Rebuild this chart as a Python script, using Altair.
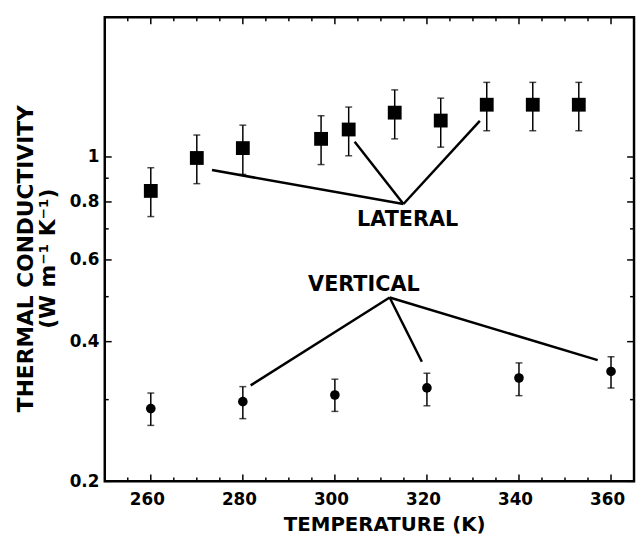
import altair as alt
import pandas as pd

# ---- data ----
lat_T = [260, 270, 280, 297, 303, 313, 323, 333, 343, 353]
lat_k = [0.845, 0.995, 1.045, 1.094, 1.146, 1.246, 1.198, 1.296, 1.296, 1.296]
lat_lo = [0.744, 0.876, 0.917, 0.963, 1.006, 1.094, 1.050, 1.139, 1.139, 1.139]
lat_hi = [0.948, 1.115, 1.171, 1.227, 1.281, 1.395, 1.339, 1.448, 1.448, 1.448]

vert_T = [260, 280, 300, 320, 340, 360]
vert_k = [0.287, 0.297, 0.307, 0.318, 0.334, 0.345]
vert_lo = [0.264, 0.273, 0.283, 0.291, 0.306, 0.318]
vert_hi = [0.310, 0.320, 0.332, 0.342, 0.360, 0.371]

# leader lines: start (x, y) -> end (x2, y2)
lead_x = [314.9, 314.9, 314.9, 311.9, 311.9, 311.9]
lead_y = [0.792, 0.792, 0.792, 0.498, 0.498, 0.498]
lead_x2 = [273.3, 304.3, 331.5, 281.7, 318.9, 357.1]
lead_y2 = [0.937, 1.079, 1.196, 0.322, 0.362, 0.365]

label_text = ["LATERAL", "VERTICAL"]
label_x = [315.8, 306.3]
label_y = [0.732, 0.530]

x_tick_labels = [260, 280, 300, 320, 340, 360]
y_tick_labels = [0.2, 0.4, 0.6, 0.8, 1]
x_minor = [255, 265, 270, 275, 285, 290, 295, 305, 310, 315, 325, 330, 335, 345, 350, 355]
y_minor = [0.3, 0.5, 0.7, 0.9]

X_DOMAIN = [250, 365]
Y_DOMAIN = [0.2, 2]
W, H = 536, 470
FONT = "DejaVu Sans"

lat = pd.DataFrame({"T": lat_T, "k": lat_k, "lo": lat_lo, "hi": lat_hi})
vert = pd.DataFrame({"T": vert_T, "k": vert_k, "lo": vert_lo, "hi": vert_hi})
lead = pd.DataFrame({"x": lead_x, "y": lead_y, "x2": lead_x2, "y2": lead_y2})
labels = pd.DataFrame({"t": label_text, "x": label_x, "y": label_y})

xs = alt.Scale(domain=X_DOMAIN, nice=False, zero=False)
ys = alt.Scale(type="log", domain=Y_DOMAIN, nice=False)

x_axis = alt.Axis(values=x_tick_labels, title="TEMPERATURE (K)", grid=False,
                  ticks=False, domain=False, labelFont=FONT, labelFontWeight="bold",
                  labelFontSize=17, labelColor="black", labelPadding=10, labelOffset=-4,
                  titleFont=FONT, titleFontWeight="bold", titleFontSize=20,
                  titleColor="black", titleX=283, titleY=50, titleBaseline="alphabetic")
y_axis = alt.Axis(values=y_tick_labels, format="~g",
                  title=["THERMAL CONDUCTIVITY", "(W m\u207b\u00b9 K\u207b\u00b9)"],
                  grid=False, ticks=False, domain=False, labelFont=FONT,
                  labelFontWeight="bold", labelFontSize=17, labelColor="black",
                  labelPadding=6, titleFont=FONT, titleFontWeight="bold",
                  titleFontSize=22, titleColor="black", titleLineHeight=22,
                  titleX=-73, titleY=244, titleAngle=270, titleAlign="center",
                  titleBaseline="alphabetic")

base_layers = []

# error bar stems and caps
for df in (lat, vert):
    base_layers.append(alt.Chart(df).mark_rule(color="black", strokeWidth=1.5).encode(
        x=alt.X("T:Q", scale=xs, axis=x_axis),
        y=alt.Y("lo:Q", scale=ys, axis=y_axis),
        y2="hi:Q"))
    for col in ("lo", "hi"):
        base_layers.append(alt.Chart(df).mark_tick(color="black", orient="horizontal",
                                                   size=7, thickness=1.5).encode(
            x=alt.X("T:Q", scale=xs), y=alt.Y(f"{col}:Q", scale=ys)))

# markers
base_layers.append(alt.Chart(lat).mark_square(color="black", size=196, opacity=1).encode(
    x=alt.X("T:Q", scale=xs), y=alt.Y("k:Q", scale=ys)))
base_layers.append(alt.Chart(vert).mark_circle(color="black", size=95, opacity=1).encode(
    x=alt.X("T:Q", scale=xs), y=alt.Y("k:Q", scale=ys)))

# leader lines
base_layers.append(alt.Chart(lead).mark_rule(color="black", strokeWidth=2.5).encode(
    x=alt.X("x:Q", scale=xs), y=alt.Y("y:Q", scale=ys), x2="x2:Q", y2="y2:Q"))

# text labels
base_layers.append(alt.Chart(labels).mark_text(font=FONT, fontWeight="bold", fontSize=21,
                                               color="black", align="center",
                                               baseline="middle").encode(
    x=alt.X("x:Q", scale=xs), y=alt.Y("y:Q", scale=ys), text="t:N"))

# inward ticks on all four sides
xmaj = pd.DataFrame({"v": x_tick_labels})
xmin = pd.DataFrame({"v": x_minor})
ymaj = pd.DataFrame({"v": y_tick_labels})
ymin = pd.DataFrame({"v": y_minor})
for df, ln in ((xmaj, 7), (xmin, 4)):
    base_layers.append(alt.Chart(df).mark_rule(color="black", strokeWidth=1.5).encode(
        x=alt.X("v:Q", scale=xs), y=alt.value(H), y2=alt.value(H - ln)))
    base_layers.append(alt.Chart(df).mark_rule(color="black", strokeWidth=1.5).encode(
        x=alt.X("v:Q", scale=xs), y=alt.value(0), y2=alt.value(ln)))
for df, ln in ((ymaj, 7), (ymin, 4)):
    base_layers.append(alt.Chart(df).mark_rule(color="black", strokeWidth=1.5).encode(
        y=alt.Y("v:Q", scale=ys), x=alt.value(0), x2=alt.value(ln)))
    base_layers.append(alt.Chart(df).mark_rule(color="black", strokeWidth=1.5).encode(
        y=alt.Y("v:Q", scale=ys), x=alt.value(W), x2=alt.value(W - ln)))

chart = alt.layer(*base_layers).properties(
    width=W, height=H,
    autosize=alt.AutoSizeParams(type="none"),
    padding={"left": 98, "top": 6, "right": 2, "bottom": 56},
    background="white",
).configure_view(stroke="black", strokeWidth=2.5)

chart.save("out.html", embed_options={"renderer": "svg", "actions": False})
